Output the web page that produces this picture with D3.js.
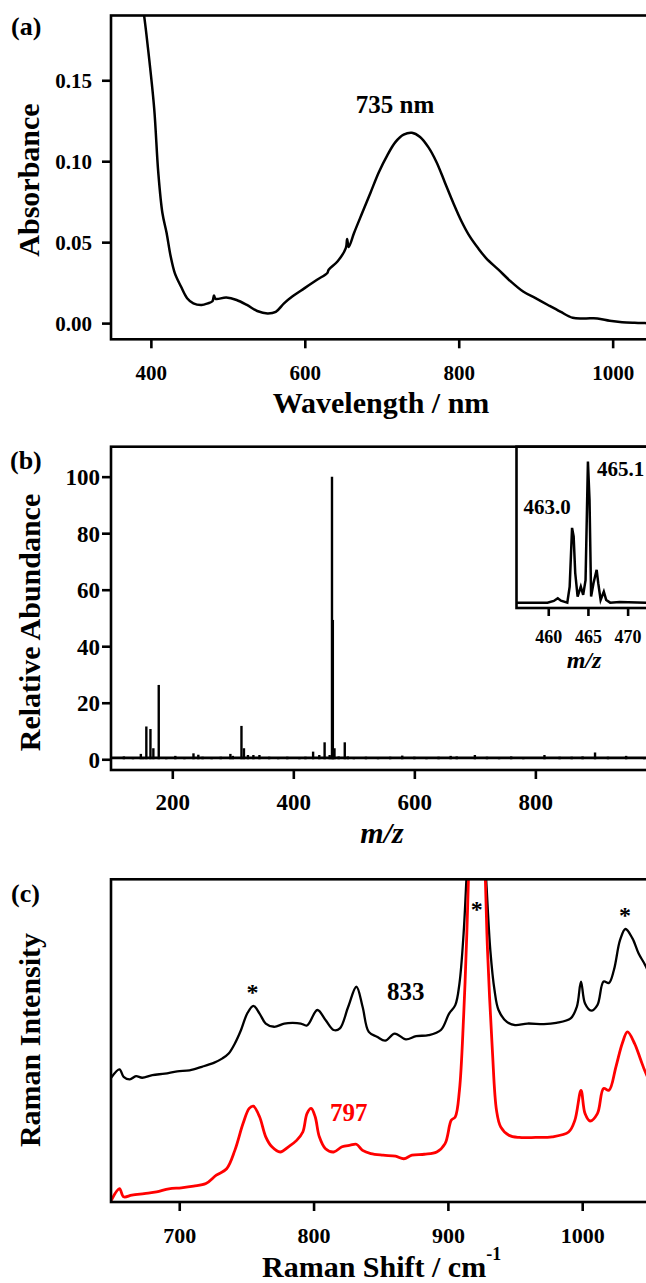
<!DOCTYPE html>
<html><head><meta charset="utf-8">
<script src="https://cdn.jsdelivr.net/npm/d3@7"></script>
<style>
body{margin:0;background:#fff}
svg{display:block}
text{font-family:"Liberation Serif","Times New Roman",serif;font-weight:bold;fill:#000}
</style>
</head><body>
<svg id="fig" width="646" height="1283"></svg>
<script>
// ---------------- DATA ----------------
// (a) UV-Vis absorption
const uvWavelength = [386,390.9,396.2,404.3,409.6,415.0,420.4,425.7,431.1,439.1,447.1,455.2,465.9,473.9,480,482.0,484,498.0,511.4,524.8,538.2,551.6,562.3,573.0,583.7,599.8,615.9,629.3,631,642.7,653.4,655,657,664.1,674.8,685.5,696.2,707.0,717.7,728.4,739.1,749.8,760.5,771.2,782.0,792.7,803.4,814.1,824.8,835.5,851.6,867.7,883.7,899.8,915.9,932.0,948.0,964.1,980.2,996.2,1012.3,1028.4,1042.3,1060,1080];
const uvAbsorbance = [0.205,0.191,0.170,0.1326,0.0932,0.068,0.0558,0.0413,0.0309,0.0226,0.0154,0.0122,0.0112,0.0122,0.0135,0.0170,0.0150,0.0158,0.0143,0.0112,0.0075,0.0060,0.0070,0.0122,0.0164,0.0216,0.0268,0.0310,0.0330,0.0382,0.0465,0.0520,0.0470,0.0558,0.0683,0.0807,0.0932,0.1035,0.1118,0.1164,0.1176,0.1150,0.1087,0.0994,0.0869,0.0745,0.0631,0.0537,0.0465,0.0402,0.0330,0.0257,0.0195,0.0154,0.0112,0.0071,0.0033,0.0029,0.0029,0.0015,0.0006,0.0002,0.0000,-0.0002,-0.0003];
const uvTicksX = [400,600,800,1000];
const uvTicksY = [0.00,0.05,0.10,0.15];

// (b) ESI mass spectrum (sticks)
const msMz = [120,135,148,152,157.1,163.9,168.7,177.6,190,205,220,235,243,250,265,280,296,300,314.3,318.4,325,334,344,360,375,390,410,420,432.7,442.9,451.7,460,463.9,465.3,468,475,485,490,500,520,540,560,580,600,620,640,660,670,700,720,740,760,780,815,840,860,878,898.6,920,950,980,1000,1020];
const msAbund = [1.0,0.8,1.9,0.8,11.6,10.7,3.9,26.3,0.8,1.2,0.8,2.1,1.6,0.9,0.8,0.9,1.9,1.2,11.8,3.9,1.5,1.5,1.5,0.9,0.8,0.9,0.8,0.9,2.7,1.5,6.0,1.5,100,49.3,3.9,1.0,6.0,1.0,0.8,0.9,0.8,0.9,1.3,0.9,0.8,0.9,1.2,1.0,1.5,0.9,0.8,1.0,0.8,1.5,0.9,0.9,1.0,2.4,0.9,1.2,0.8,0.9,1.0];
const msTicksX = [200,400,600,800];
const msTicksY = [0,20,40,60,80,100];

// (b) inset: isotope pattern
const insetMz = [456.0,459.9,460.7,461.2,461.6,462.4,462.7,463.0,463.2,463.4,463.7,464.1,464.4,464.7,465.0,465.2,465.4,465.7,466.1,466.3,466.6,467.0,467.3,467.8,469.0,472.3,477];
const insetAb = [0,0,1.2,3.1,1.4,0,11.4,53,47,21,4.3,11.4,5.5,16,100,73,4.3,13.8,23.3,13.8,1.9,7.8,1.9,0,0.5,0,0];
const insetTicks = [460,465,470];

// (c) Raman spectra
const ramanShiftBlack = [649,655.5,658.6,663.2,667.8,672.4,680,689.3,698.5,707.7,716.9,726.1,732.2,736.8,741.4,746,750.6,755.2,759.8,764.4,770.6,778.2,784.4,790.5,795.1,802.8,808.9,815,819.6,825.8,831.9,836.5,841.1,847.2,853.4,860.4,868.7,876.4,885.6,894.8,900.9,905.5,908.6,911.7,913.8,917,921,925,928.5,931.6,934.7,937.7,943.9,950,959.2,971.5,980.7,991.4,996,999.1,1002.1,1006.7,1011.3,1015.9,1019.9,1023.6,1028.2,1032.2,1037.4,1042,1046.9,1060,1075];
const ramanIntBlack = [38.3,41.1,38.8,38.0,39.0,38.5,39.3,39.8,40.5,40.8,41.9,43.2,44.5,46.0,49.1,53.3,58.4,60.8,58.4,55.3,54.3,55.3,55.5,55.3,54.7,59.5,56.4,53.3,53.8,60.5,66.7,60.5,52.7,51.2,50.0,52.2,50.4,51.4,51.7,53.3,58.4,61.0,67.7,83.2,100,125,135,125,100,78,65.7,59.5,55.8,54.8,55.3,55.1,55.5,56.9,60.5,68.3,61.5,59.3,61.0,68.3,67.9,71.9,81.2,84.6,81.7,77.0,73.4,62,55];
const ramanShiftRed = [649.4,655.5,658.6,664.7,673.9,683.1,692.3,701.5,710.7,719.9,727.6,735.3,741.4,747.5,752.1,755.2,759.8,764.4,769.0,775.2,781.3,787.4,792,795.1,798.2,801.2,804.3,808.9,815,821.2,827.3,831.9,836.5,842.6,851.8,861,867.2,873.3,882.5,891.7,897.9,902.5,905.5,908.6,911.7,914.1,915.3,918,921,925,927.9,929.5,933.1,936.2,939.3,945.4,953.1,965.3,977.6,989.9,994.5,999.1,1002.1,1005.8,1011.3,1015.9,1019.9,1025.1,1029.8,1033.7,1039,1043.6,1047,1060,1075];
const ramanIntRed = [0.5,4.1,1.6,2.1,2.6,3.1,4.1,4.4,4.9,5.7,8.3,10.3,16.0,24.3,29.0,29.7,26.4,20.2,17.1,15.5,17.1,19.1,21.7,27.4,29.0,26.4,20.2,16.5,15.5,17.1,17.6,17.9,16.0,15.0,14.5,14.2,13.4,14.5,14.8,15.5,18.1,25.3,26.4,34.6,57.4,83.2,100,135,150,135,100,78,47.1,28.4,23.3,20.7,20.0,20.0,20.2,21.7,25.3,34.6,27.4,25.1,27.4,35.2,34.6,41.9,49.1,52.7,49.1,44.0,40.3,30,25];
const ramanTicksX = [700,800,900,1000];

// ---------------- DRAWING ----------------
const svg = d3.select("#fig");
const LW = 2.6;

function frame(x0, y0, x1, y1) {
  svg.append("rect").attr("x", x0).attr("y", y0).attr("width", x1 - x0).attr("height", y1 - y0)
    .attr("fill", "none").attr("stroke", "#000").attr("stroke-width", LW);
}
function clip(id, x0, y0, x1, y1) {
  svg.append("clipPath").attr("id", id).append("rect")
    .attr("x", x0).attr("y", y0).attr("width", x1 - x0).attr("height", y1 - y0);
}
function bottomAxis(scale, y, ticks, fmt, size, baseline, tickLen) {
  const g = svg.append("g").attr("transform", `translate(0,${y})`)
    .call(d3.axisBottom(scale).tickValues(ticks).tickSize(tickLen).tickFormat(fmt));
  g.select(".domain").remove();
  g.selectAll("line").attr("stroke-width", LW);
  g.attr("font-size", size);
  g.selectAll("text").attr("y", baseline - y).attr("dy", 0);
  return g;
}
function leftAxis(scale, x, ticks, fmt, size, labelRight, tickLen) {
  const g = svg.append("g").attr("transform", `translate(${x},0)`)
    .call(d3.axisLeft(scale).tickValues(ticks).tickSize(tickLen).tickFormat(fmt));
  g.select(".domain").remove();
  g.selectAll("line").attr("stroke-width", LW);
  g.attr("font-size", size);
  g.selectAll("text").attr("x", labelRight - x).attr("dy", "0.34em");
  return g;
}
function txt(s, x, y, size, anchor, opts = {}) {
  const t = svg.append("text").attr("x", x).attr("y", y).attr("font-size", size)
    .attr("text-anchor", anchor || "start").text(s);
  if (opts.rotate) t.attr("transform", `rotate(-90,${x},${y})`);
  if (opts.fill) t.style("fill", opts.fill);
  if (opts.italic) t.style("font-style", "italic");
  return t;
}

// ===== Panel (a) =====
const aL = 111, aT = 15.5, aB = 339.3, aR = 680;
const xA = d3.scaleLinear().domain([348.2, 1087.5]).range([aL, aR]);
const yA = d3.scaleLinear().domain([-0.01, 0.19]).range([aB, aT]);
clip("clipA", aL, aT, aR, aB);
svg.append("path").datum(d3.zip(uvWavelength, uvAbsorbance))
  .attr("clip-path", "url(#clipA)")
  .attr("d", d3.line().x(d => xA(d[0])).y(d => yA(d[1])).curve(d3.curveCatmullRom))
  .attr("fill", "none").attr("stroke", "#000").attr("stroke-width", 2.5);
frame(aL, aT, aR, aB);
bottomAxis(xA, aB, uvTicksX, d3.format("d"), 21, 380, 9);
leftAxis(yA, aL, uvTicksY, d3.format(".2f"), 21, 92, 9);
txt("(a)", 11, 35, 26, "start");
txt("Absorbance", 39, 180, 30, "middle", {rotate: true});
txt("Wavelength / nm", 381, 413, 30, "middle");
txt("735 nm", 395, 112.5, 25, "middle");

// ===== Panel (b) =====
const bL = 111, bT = 446.7, bB = 770, bR = 680;
const xB = d3.scaleLinear().domain([98.7, 1039]).range([bL, bR]);
const yB = d3.scaleLinear().domain([-3.8, 110.6]).range([bB, bT]);
svg.append("line").attr("x1", xB(100)).attr("x2", xB(1039)).attr("y1", yB(0.5)).attr("y2", yB(0.5))
  .attr("stroke", "#000").attr("stroke-width", 2.6);
svg.append("g").selectAll("line").data(d3.zip(msMz, msAbund)).join("line")
  .attr("x1", d => xB(d[0])).attr("x2", d => xB(d[0]))
  .attr("y1", yB(0)).attr("y2", d => yB(d[1]))
  .attr("stroke", "#000").attr("stroke-width", 2.4);
frame(bL, bT, bR, bB);
bottomAxis(xB, bB, msTicksX, d3.format("d"), 23, 810, 9);
leftAxis(yB, bL, msTicksY, d3.format("d"), 23, 100, 9);
txt("(b)", 10, 469, 26, "start");
txt("Relative Abundance", 40, 622.5, 30, "middle", {rotate: true});
txt("m/z", 382, 843, 30, "middle", {italic: true});

// inset
const iL = 516.5, iT = 446.7, iB = 608, iR = 680;
const xI = d3.scaleLinear().domain([456.0, 476.6]).range([iL, iR]);
const yI = d3.scaleLinear().domain([-3.8, 110.6]).range([iB, iT]);
svg.append("rect").attr("x", iL).attr("y", iT).attr("width", iR - iL).attr("height", iB - iT).attr("fill", "#fff");
clip("clipI", iL, iT, iR, iB);
svg.append("path").datum(d3.zip(insetMz, insetAb)).attr("clip-path", "url(#clipI)")
  .attr("d", d3.line().x(d => xI(d[0])).y(d => yI(d[1])))
  .attr("fill", "none").attr("stroke", "#000").attr("stroke-width", 2.5);
frame(iL, iT, iR, iB);
bottomAxis(xI, iB, insetTicks, d3.format("d"), 18, 643, 8);
txt("m/z", 584, 668, 24, "middle", {italic: true});
txt("463.0", 547, 514, 21, "middle");
txt("465.1", 597, 476, 21, "start");

// ===== Panel (c) =====
const cL = 111, cT = 879.3, cB = 1202, cR = 680;
const xC = d3.scaleLinear().domain([649.2, 1072.8]).range([cL, cR]);
const yC = d3.scaleLinear().domain([0, 100]).range([cB, cT]);
clip("clipC", cL, cT, cR, cB);
const lineC = d3.line().x(d => xC(d[0])).y(d => yC(d[1])).curve(d3.curveCatmullRom.alpha(0.5));
svg.append("path").datum(d3.zip(ramanShiftBlack, ramanIntBlack)).attr("clip-path", "url(#clipC)")
  .attr("d", lineC).attr("fill", "none").attr("stroke", "#000").attr("stroke-width", 2.3);
svg.append("path").datum(d3.zip(ramanShiftRed, ramanIntRed)).attr("clip-path", "url(#clipC)")
  .attr("d", lineC).attr("fill", "none").attr("stroke", "#ff0000").attr("stroke-width", 2.8);
frame(cL, cT, cR, cB);
bottomAxis(xC, cB, ramanTicksX, d3.format("d"), 22, 1243, 9);
txt("(c)", 11, 902, 26, "start");
txt("Raman Intensity", 40, 1040, 30, "middle", {rotate: true});
const rt = txt("Raman Shift / cm", 262, 1277, 30, "start");
rt.append("tspan").attr("dy", -17).attr("font-size", 18).text("-1");
txt("833", 387, 1000, 25, "start");
txt("797", 330, 1121, 25, "start", {fill: "#ff0000"});
txt("*", 252.6, 1000, 24, "middle");
txt("*", 476.7, 917, 24, "middle");
txt("*", 625, 923, 24, "middle");
</script>
</body></html>
